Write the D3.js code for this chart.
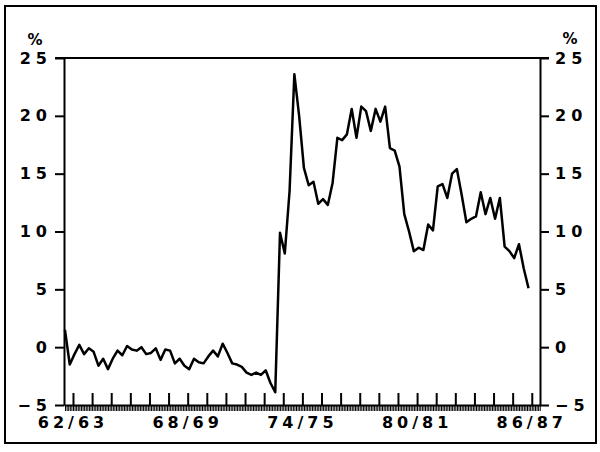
<!DOCTYPE html>
<html>
<head>
<meta charset="utf-8">
<script src="https://cdn.jsdelivr.net/npm/d3@7"></script>
<style>
  body { margin: 0; background: #fff; }
  svg text { font-family: "DejaVu Sans", sans-serif; font-weight: bold; fill: #000; }
</style>
</head>
<body>
<div id="chart"></div>
<script>
var width = 600;
var height = 452;

// fiscal years on the bottom axis (a tick for each)
var years = ["62/63","63/64","64/65","65/66","66/67","67/68","68/69","69/70","70/71","71/72",
             "72/73","73/74","74/75","75/76","76/77","77/78","78/79","79/80","80/81","81/82",
             "82/83","83/84","84/85","85/86","86/87"];
var labelledYears = ["62/63","68/69","74/75","80/81","86/87"];

// quarterly values, %
var values = [
  1.5, -1.5, -0.6, 0.2, -0.6, -0.1, -0.4, -1.6, -1.0, -1.9,
  -1.0, -0.3, -0.7, 0.1, -0.2, -0.3, 0.0, -0.6, -0.5, -0.1,
  -1.1, -0.2, -0.3, -1.4, -1.0, -1.6, -1.9, -1.0, -1.3, -1.4,
  -0.8, -0.3, -0.8, 0.3, -0.5, -1.4, -1.5, -1.7, -2.2, -2.4,
  -2.2, -2.4, -2.0, -3.1, -3.9,
  9.9, 8.1, 13.5, 23.6, 20.0, 15.5, 14.0, 14.3, 12.4, 12.8,
  12.3, 14.2, 18.1, 17.9, 18.4, 20.6, 18.1, 20.8, 20.4, 18.7,
  20.6, 19.5, 20.8, 17.2, 17.0, 15.6, 11.5, 10.0, 8.3, 8.6,
  8.4, 10.6, 10.1, 13.9, 14.1, 12.9, 15.0, 15.4, 13.2, 10.8,
  11.1, 11.3, 13.4, 11.5, 12.9, 11.1, 12.9, 8.7, 8.3, 7.7,
  8.9, 6.8, 5.1
];
var yTicks = [-5, 0, 5, 10, 15, 20, 25];

var plotLeft = 64, plotRight = 540, plotTop = 58, plotBottom = 405;

var svg = d3.select("#chart").append("svg")
    .attr("width", width)
    .attr("height", height);

// outer frame
svg.append("rect")
    .attr("x", 5).attr("y", 6)
    .attr("width", 591).attr("height", 437)
    .attr("fill", "none")
    .attr("stroke", "#000")
    .attr("stroke-width", 2);

// x in "year index": 0 = first fiscal year tick
var x = d3.scaleLinear().domain([-0.47, years.length - 0.57]).range([plotLeft, plotRight]);
var y = d3.scaleLinear().domain([-5, 25]).range([plotBottom, plotTop]);

function styleAxis(g){
    g.select(".domain").attr("stroke", "#000").attr("stroke-width", 2);
    g.selectAll(".tick line").attr("stroke", "#000").attr("stroke-width", 2);
    g.selectAll(".tick text")
        .style("font-size", "16px")
        .style("letter-spacing", "5px")
        .attr("fill", "#000");
}

// top frame line of the plot
svg.append("line")
    .attr("x1", plotLeft - 9).attr("x2", plotRight + 9)
    .attr("y1", y(25)).attr("y2", y(25))
    .attr("stroke", "#000").attr("stroke-width", 2);

// left axis
svg.append("g")
    .attr("transform", "translate(" + plotLeft + ",0)")
    .call(d3.axisLeft(y).tickValues(yTicks).tickSize(9).tickPadding(3).tickSizeOuter(0))
    .call(styleAxis)
    .call(function(g){ g.selectAll(".tick text").attr("x", -12); });

// right axis
svg.append("g")
    .attr("transform", "translate(" + plotRight + ",0)")
    .call(d3.axisRight(y).tickValues(yTicks).tickSize(9).tickPadding(6).tickSizeOuter(0))
    .call(styleAxis);

// monthly ticks under the axis
var months = d3.range(Math.ceil(x.domain()[0] * 12), Math.floor(x.domain()[1] * 12) + 1)
    .map(function(k){ return k / 12; });
svg.append("g")
    .attr("transform", "translate(0," + plotBottom + ")")
    .call(d3.axisBottom(x).tickValues(months).tickSize(6).tickFormat("").tickSizeOuter(0))
    .call(function(g){
        g.select(".domain").attr("stroke", "#000").attr("stroke-width", 2);
        g.selectAll(".tick line").attr("stroke", "#000").attr("stroke-width", 1);
    });

// yearly ticks above the axis
svg.append("g")
    .attr("transform", "translate(0," + plotBottom + ")")
    .call(d3.axisBottom(x).tickValues(d3.range(years.length)).tickSize(-12).tickFormat("").tickSizeOuter(0))
    .call(function(g){
        g.select(".domain").remove();
        g.selectAll(".tick line").attr("stroke", "#000").attr("stroke-width", 2);
    });

// year labels
svg.selectAll("text.year")
    .data(labelledYears)
    .enter()
    .append("text")
    .attr("class", "year")
    .attr("x", function(d){ return x(years.indexOf(d)); })
    .attr("y", 428)
    .attr("text-anchor", "middle")
    .style("font-size", "16px")
    .style("letter-spacing", "4px")
    .text(function(d){ return d; });

// % units
svg.append("text").attr("x", 35).attr("y", 45).attr("text-anchor", "middle")
    .style("font-size", "15px").text("%");
svg.append("text").attr("x", 570).attr("y", 44).attr("text-anchor", "middle")
    .style("font-size", "15px").text("%");

// the series
var line = d3.line()
    .x(function(d, i){ return x(-0.42 + i / 4); })
    .y(function(d){ return y(d); });

svg.append("path")
    .datum(values)
    .attr("d", line)
    .attr("fill", "none")
    .attr("stroke", "#000")
    .attr("stroke-width", 2.5)
    .attr("stroke-linejoin", "round");
</script>
</body>
</html>
